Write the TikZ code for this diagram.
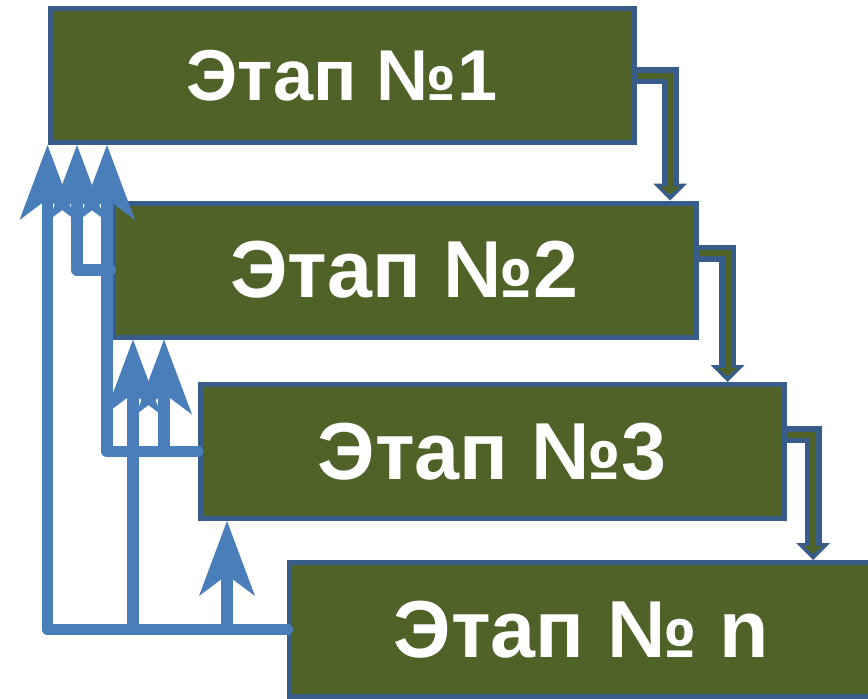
\documentclass[tikz,border=0pt]{standalone}
\usepackage{fontspec}
\setmainfont{Liberation Sans}
\usetikzlibrary{arrows.meta}
\pgfdeclarelayer{bg}
\pgfsetlayers{bg,main}
\definecolor{stagegreen}{HTML}{4F6228}
\definecolor{stageline}{HTML}{385D8A}
\definecolor{backblue}{HTML}{4A7EBB}
\tikzset{
    stage/.style={draw=stageline, fill=stagegreen, line width=0.1cm, minimum width=11.68cm, minimum height=2.68cm, text=white, font=\bfseries\fontsize{46}{55}\selectfont},
    elbow/.style={to path={-| (\tikztotarget)}},
    pass/.style={elbow, draw=stageline, line width=0.34cm, -{Triangle[length=0.34cm, width=0.68cm, line width=0pt]}, postaction={draw=stagegreen, line width=0.12cm, shorten >=0.12cm, -{Triangle[length=0.16cm, width=0.4cm, line width=0pt]}}},
    back/.style={elbow, draw=backblue, line width=0.23cm, line cap=round, line join=round, -{Stealth[length=1.5cm, width=1.12cm, inset=0.42cm, line width=0pt]}},
}

\begin{document}
\begin{tikzpicture}
    \useasboundingbox (0cm, 0cm) rectangle (17.36cm, -13.96cm);
    \node (s1) [stage, font=\bfseries\fontsize{41}{49}\selectfont] at (6.84cm, -1.51cm) {Этап №1};
    \node (s2) [stage] at (8.09cm, -5.40cm) {Этап №2};
    \node (s3) [stage] at (9.84cm, -9.03cm) {Этап №3};
    \node (s4) [stage] at (11.63cm, -12.59cm) {Этап № n};

    \begin{pgfonlayer}{bg}
        \draw (s1.east) edge[pass] ([xshift=-0.58cm]s2.north east);
        \draw ([yshift=0.34cm]s2.east) edge[pass] ([xshift=-1.18cm]s3.north east);
        \draw ([yshift=0.34cm]s3.east) edge[pass] ([xshift=10.52cm]s4.north west);
    \end{pgfonlayer}

    \draw (s2.west) edge[back] ([xshift=0.59cm]s1.south west);
    \draw (s3.west) edge[back] ([xshift=1.19cm]s1.south west);
    \draw (s3.west) edge[back] ([xshift=1.08cm]s2.south west);
    \draw (s4.west) edge[back] (s1.south west);
    \draw (s4.west) edge[back] ([xshift=0.46cm]s2.south west);
    \draw (s4.west) edge[back] ([xshift=0.59cm]s3.south west);
\end{tikzpicture}
\end{document}
